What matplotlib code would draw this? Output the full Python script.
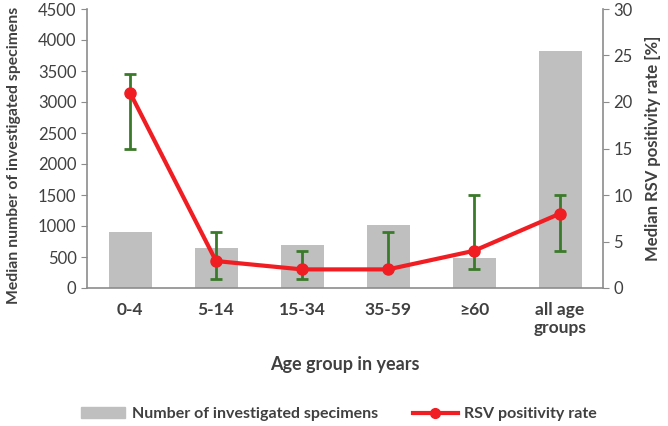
import matplotlib
matplotlib.use("Agg")
import matplotlib.pyplot as plt
from matplotlib.lines import Line2D
from matplotlib.patches import Patch

plt.rcParams["font.family"] = ["Lato", "DejaVu Sans"]

# data
age_groups = ["0-4", "5-14", "15-34", "35-59", "\u226560", "all age\ngroups"]
specimens = [910, 645, 690, 1010, 480, 3830]
rsv_rate = [21, 2.9, 2.0, 2.0, 4.0, 8.0]
rate_low = [15, 1, 1, 2, 2, 4]
rate_high = [23, 6, 4, 6, 10, 10]

grey = "#BFBFBF"
red = "#F01E23"
green = "#3B7A2A"
spine_c = "#8C8C8C"
text_c = "#404040"

fig = plt.figure(figsize=(6.68, 4.26), dpi=100)
ax = fig.add_axes([87 / 668, 1 - 288 / 426, (603 - 87) / 668, (288 - 9) / 426])
ax2 = ax.twinx()

x = list(range(len(age_groups)))
ax.bar(x, specimens, width=0.5, color=grey, zorder=1)

err_lo = [r - l for r, l in zip(rsv_rate, rate_low)]
err_hi = [h - r for r, h in zip(rsv_rate, rate_high)]
ax2.errorbar(x, rsv_rate, yerr=[err_lo, err_hi], fmt="none", ecolor=green,
             elinewidth=2, capsize=4, capthick=2, zorder=2)
ax2.plot(x, rsv_rate, color=red, lw=3, marker="o", ms=8, zorder=3)

ax.set_xlim(-0.5, 5.5)
ax.set_ylim(0, 4500)
ax.set_yticks(range(0, 4501, 500))
ax2.set_ylim(0, 30)
ax2.set_yticks(range(0, 31, 5))

for a in (ax, ax2):
    a.spines["top"].set_visible(False)
    for s in ("left", "right", "bottom"):
        a.spines[s].set_color(spine_c)
        a.spines[s].set_linewidth(1.2)
    a.tick_params(axis="y", colors=spine_c, labelcolor=text_c, labelsize=12, length=4)
ax.spines["right"].set_visible(False)
ax2.spines["left"].set_visible(False)
ax2.spines["bottom"].set_visible(False)

ax.set_xticks(x)
ax.set_xticklabels(age_groups, fontsize=12.5, fontweight="bold", color=text_c)
ax.tick_params(axis="x", length=0, pad=10)

ax.set_ylabel("Median number of investigated specimens", fontsize=11.3, fontweight="bold",
              color=text_c)
ax.yaxis.set_label_coords(-0.127, 0.475)
ax2.set_ylabel("Median RSV positivity rate [%]", fontsize=12, fontweight="bold",
               color=text_c, labelpad=9)
ax.set_xlabel("Age group in years", fontsize=13, fontweight="bold", color=text_c, labelpad=14)

handles = [Patch(color=grey), Line2D([], [], color=red, lw=3, marker="o", ms=7)]
labels = ["Number of investigated specimens", "RSV positivity rate"]
fig.legend(handles, labels, loc="center", bbox_to_anchor=(0.507, 1 - 414 / 426), ncol=2,
           frameon=False, handlelength=2.8, columnspacing=2.2,
           handletextpad=0.4, prop={"weight": "bold", "size": 11.5})
for t in fig.legends[0].get_texts():
    t.set_color(text_c)

fig.savefig("out.png", dpi=100)
